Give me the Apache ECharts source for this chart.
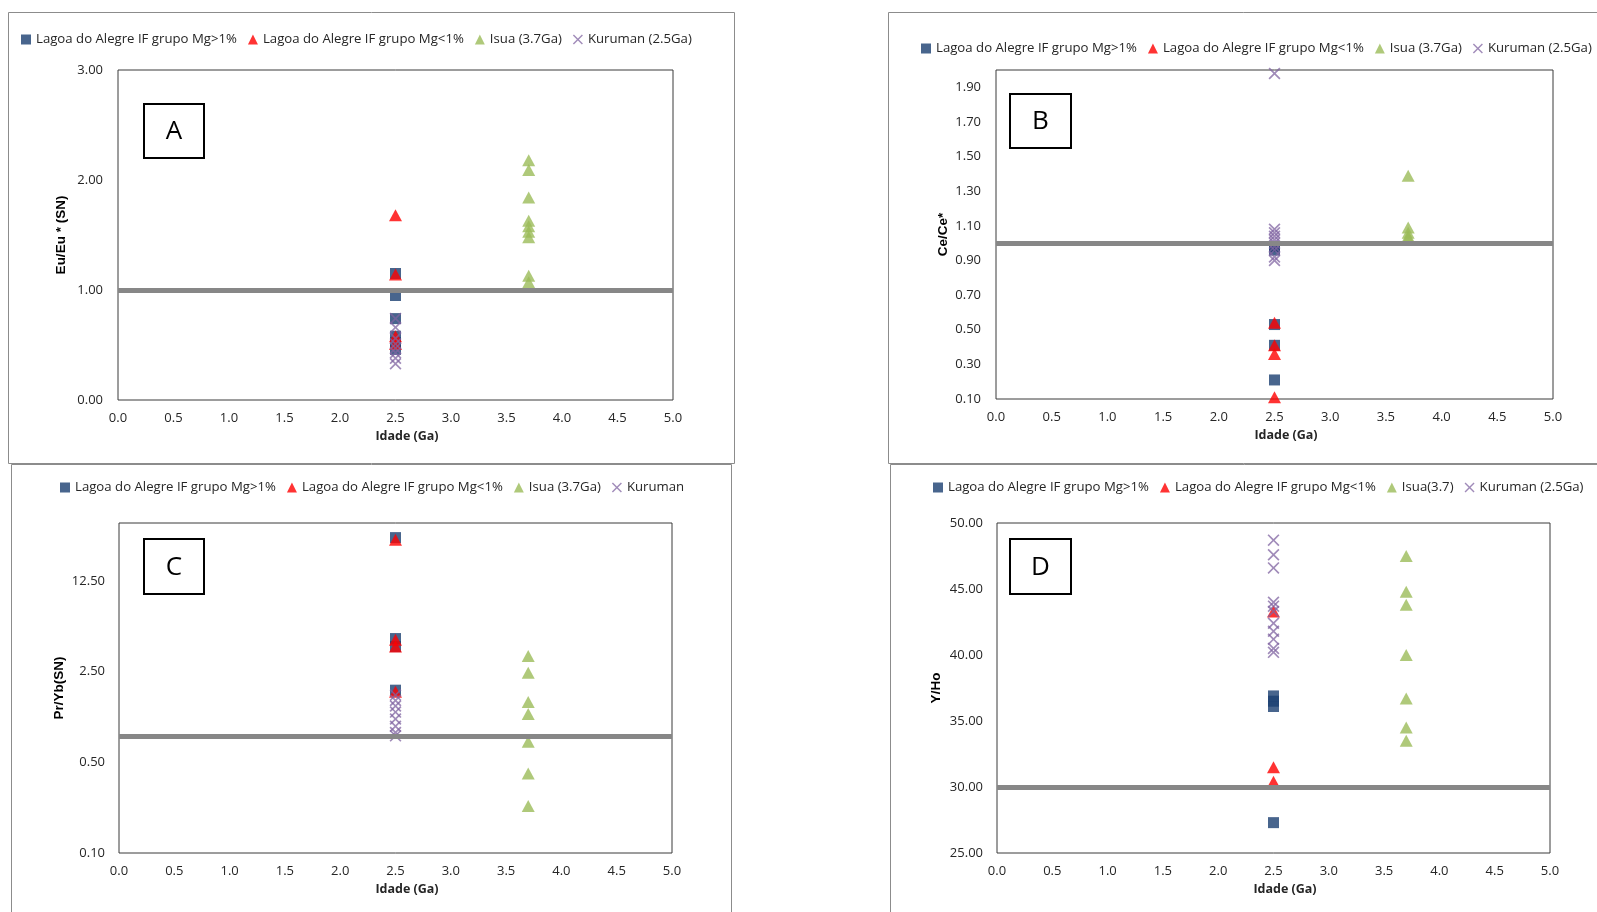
<!DOCTYPE html>
<html><head><meta charset="utf-8">
<script src="https://cdn.jsdelivr.net/npm/echarts@6/dist/echarts.min.js"></script>
<style>html,body{margin:0;padding:0;background:#fff}#c{width:1597px;height:912px}</style>
</head><body><div id="c"></div>
<script>
// ---- names ----
const nameMgHigh = 'Lagoa do Alegre IF grupo Mg>1%';
const nameMgLow = 'Lagoa do Alegre IF grupo Mg<1%';
const nameIsua = 'Isua (3.7Ga)';
const nameIsuaD = 'Isua(3.7)';
const nameKuruman = 'Kuruman (2.5Ga)';
const nameKurumanC = 'Kuruman';
const panelLetters = ['A', 'B', 'C', 'D'];
const yTitles = ['Eu/Eu * (SN)', 'Ce/Ce*', 'Pr/Yb(SN)', 'Y/Ho'];
const xTitle = 'Idade (Ga)';

// ---- ages (x values, Ga) ----
const ageLagoa = 2.5;
const ageIsua = 3.7;
const ageKuruman = 2.5;

// ---- Panel A: Eu/Eu* ----
const euMgHigh = [1.15, 0.95, 0.74, 0.58, 0.52, 0.46];
const euMgLow = [1.68, 1.14, 0.58, 0.51];
const euIsua = [2.18, 2.09, 1.84, 1.63, 1.58, 1.53, 1.48, 1.13, 1.07];
const euKuruman = [0.74, 0.66, 0.56, 0.51, 0.47, 0.43, 0.38, 0.33];

// ---- Panel B: Ce/Ce* ----
const ceMgHigh = [0.98, 0.96, 0.53, 0.41, 0.21];
const ceMgLow = [0.54, 0.41, 0.36, 0.11];
const ceIsua = [1.39, 1.09, 1.06, 1.04, 1.03];
const ceKuruman = [1.98, 1.08, 1.06, 1.04, 1.02, 1.00, 0.98, 0.96, 0.92, 0.90];

// ---- Panel C: Pr/Yb(SN) ----
const prMgHigh = [27.0, 4.5, 3.9, 1.80];
const prMgLow = [26.0, 4.4, 3.9, 1.75];
const prIsua = [3.3, 2.45, 1.46, 1.18, 0.72, 0.41, 0.23];
const prKuruman = [1.65, 1.50, 1.36, 1.22, 1.08, 0.95, 0.85, 0.80];

// ---- Panel D: Y/Ho ----
const yhMgHigh = [36.9, 36.5, 36.1, 27.3];
const yhMgLow = [43.3, 31.5, 30.4];
const yhIsua = [47.5, 44.8, 43.8, 40.0, 36.7, 34.5, 33.5];
const yhKuruman = [48.7, 47.6, 46.6, 44.0, 43.7, 43.3, 42.4, 41.8, 41.2, 40.5, 40.2];

// ---- reference lines ----
const refA = 1.0, refB = 1.0, refC = 0.8, refD = 30.0;

// ---- axis ranges / tick labels ----
const xMin = 0, xMax = 5, xStep = 0.5;
const yRangeA = [0, 3], yStepA = 1;
const yRangeB = [0.1, 2.0];
const yTicksB = [0.1, 0.3, 0.5, 0.7, 0.9, 1.1, 1.3, 1.5, 1.7, 1.9];
const yRangeC = [0.1, 35];
const yTicksC = [0.1, 0.5, 2.5, 12.5];
const yRangeD = [25, 50], yStepD = 5;

// ---- layout ----
const grids = [
  { left: 118, top: 70, width: 555, height: 330 },
  { left: 996, top: 70, width: 557, height: 329 },
  { left: 119, top: 523, width: 553, height: 330 },
  { left: 997, top: 523, width: 553, height: 330 }
];
const legendPos = [
  { left: 21, top: 33 }, { left: 921, top: 42 },
  { left: 60, top: 481 }, { left: 933, top: 481 }
];
const yNameGaps = [50, 46, 53, 54];
const letterBoxes = [
  [144, 104, 60, 54], [1010, 94, 61, 54], [144, 539, 60, 55], [1010, 539, 61, 55]
];
const panelFrames = [
  [8, 12, 726, 451], [888, 12, 720, 451], [11, 464, 720, 460], [890, 464, 720, 460]
];

const FONT = '"Open Sans", "Noto Sans", sans-serif';
const navy = '#1A3F70', red = '#FF0000', green = '#9BBB59', purple = '#8064A2';
const xPath = 'path://M0,1L1,0L5,4L9,0L10,1L6,5L10,9L9,10L5,6L1,10L0,9L4,5Z';

const styles = {
  high: { symbol: 'rect', symbolSize: 11, itemStyle: { color: navy } },
  low: { symbol: 'triangle', symbolSize: [13, 12], itemStyle: { color: red } },
  isua: { symbol: 'triangle', symbolSize: [13, 12], itemStyle: { color: green } },
  kur: { symbol: xPath, symbolSize: 12, itemStyle: { color: purple, opacity: 0.75 } }
};

function pts(age, arr) { return arr.map(v => [age, v]); }

function mk(name, st, age, arr, gi, ref) {
  const s = {
    type: 'scatter', name: name, xAxisIndex: gi, yAxisIndex: gi,
    data: pts(age, arr), symbol: st.symbol, symbolSize: st.symbolSize,
    itemStyle: st.itemStyle, emphasis: { disabled: true }, animation: false
  };
  if (ref != null) {
    s.markLine = {
      silent: true, symbol: 'none', animation: false,
      label: { show: false },
      lineStyle: { color: '#878787', width: 5, type: 'solid', opacity: 1 },
      emphasis: { disabled: true },
      data: [{ yAxis: ref }]
    };
  }
  return s;
}

const series = [
  mk(nameMgHigh, styles.high, ageLagoa, euMgHigh, 0),
  mk(nameMgLow, styles.low, ageLagoa, euMgLow, 0),
  mk(nameIsua, styles.isua, ageIsua, euIsua, 0),
  mk(nameKuruman, styles.kur, ageKuruman, euKuruman, 0, refA),

  mk(nameMgHigh, styles.high, ageLagoa, ceMgHigh, 1),
  mk(nameMgLow, styles.low, ageLagoa, ceMgLow, 1),
  mk(nameIsua, styles.isua, ageIsua, ceIsua, 1),
  mk(nameKuruman, styles.kur, ageKuruman, ceKuruman, 1, refB),

  mk(nameMgHigh, styles.high, ageLagoa, prMgHigh, 2),
  mk(nameMgLow, styles.low, ageLagoa, prMgLow, 2),
  mk(nameIsua, styles.isua, ageIsua, prIsua, 2),
  mk(nameKurumanC, styles.kur, ageKuruman, prKuruman, 2, refC),

  mk(nameMgHigh, styles.high, ageLagoa, yhMgHigh, 3),
  mk(nameMgLow, styles.low, ageLagoa, yhMgLow, 3),
  mk(nameIsuaD, styles.isua, ageIsua, yhIsua, 3),
  mk(nameKuruman, styles.kur, ageKuruman, yhKuruman, 3, refD)
];

const legendNames = [
  [nameMgHigh, nameMgLow, nameIsua, nameKuruman],
  [nameMgHigh, nameMgLow, nameIsua, nameKuruman],
  [nameMgHigh, nameMgLow, nameIsua, nameKurumanC],
  [nameMgHigh, nameMgLow, nameIsuaD, nameKuruman]
];

const labelStyle = { color: '#262626', fontFamily: FONT, fontSize: 13 };

const xAxes = grids.map((g, i) => ({
  type: 'value', gridIndex: i, min: xMin, max: xMax, interval: xStep,
  axisLine: { show: false }, axisTick: { show: false }, splitLine: { show: false },
  axisLabel: Object.assign({ margin: 12, formatter: v => v.toFixed(1) }, labelStyle),
  name: xTitle, nameLocation: 'middle', nameGap: 30,
  nameTextStyle: { fontFamily: FONT, fontWeight: 'bold', fontSize: 12.5, color: '#262626', padding: [0, 0, 0, 23] }
}));

function yName(i) {
  return {
    name: yTitles[i], nameLocation: 'middle', nameGap: yNameGaps[i],
    nameTextStyle: { fontFamily: '"Liberation Sans", Arial, sans-serif', fontWeight: 'bold', fontSize: 13.5, color: '#000' }
  };
}
const yCommon = {
  axisLine: { show: false }, axisTick: { show: false }, splitLine: { show: false }
};
const yAxes = [
  Object.assign({ type: 'value', gridIndex: 0, min: yRangeA[0], max: yRangeA[1], interval: yStepA,
    axisLabel: Object.assign({ margin: 15, formatter: v => v.toFixed(2) }, labelStyle) }, yCommon, yName(0)),
  Object.assign({ type: 'value', gridIndex: 1, min: yRangeB[0], max: yRangeB[1],
    axisLabel: Object.assign({ margin: 15, customValues: yTicksB, formatter: v => v.toFixed(2) }, labelStyle) }, yCommon, yName(1)),
  Object.assign({ type: 'log', logBase: 5, gridIndex: 2, min: yRangeC[0], max: yRangeC[1],
    axisLabel: Object.assign({ margin: 14, customValues: yTicksC, formatter: v => Number(v).toFixed(2) }, labelStyle) }, yCommon, yName(2)),
  Object.assign({ type: 'value', gridIndex: 3, min: yRangeD[0], max: yRangeD[1], interval: yStepD,
    axisLabel: Object.assign({ margin: 14, formatter: v => v.toFixed(2) }, labelStyle) }, yCommon, yName(3))
];

const graphic = [];
panelFrames.forEach(f => {
  graphic.push({ type: 'rect', z: -10, silent: true,
    shape: { x: f[0] + 0.5, y: f[1] + 0.5, width: f[2], height: f[3] },
    style: { fill: '#fff', stroke: '#8c8c8c', lineWidth: 1 } });
});
letterBoxes.forEach((b, i) => {
  graphic.push({ type: 'rect', z: 50, silent: true,
    shape: { x: b[0], y: b[1], width: b[2], height: b[3] },
    style: { fill: '#fff', stroke: '#000', lineWidth: 2 } });
  graphic.push({ type: 'text', z: 51, silent: true,
    x: b[0] + b[2] / 2, y: b[1] + b[3] / 2 + 1,
    style: { text: panelLetters[i], fill: '#000', font: '26px ' + FONT, align: 'center', verticalAlign: 'middle' } });
});

const option = {
  backgroundColor: '#fff',
  animation: false,
  grid: grids.map(g => Object.assign({ show: true, borderColor: '#3a3a3a', borderWidth: 1, backgroundColor: 'transparent', containLabel: false }, g)),
  xAxis: xAxes,
  yAxis: yAxes,
  legend: legendNames.map((names, i) => ({
    data: names, left: legendPos[i].left, top: legendPos[i].top, padding: 0,
    width: 1000, orient: 'horizontal',
    itemWidth: 10, itemHeight: 10, itemGap: 11, selectedMode: false,
    textStyle: { fontFamily: FONT, fontSize: 13.2, color: '#262626' }
  })),
  graphic: graphic,
  series: series
};

const chart = echarts.init(document.getElementById('c'), null, { renderer: 'canvas' });
chart.setOption(option);
</script>
</body></html>
